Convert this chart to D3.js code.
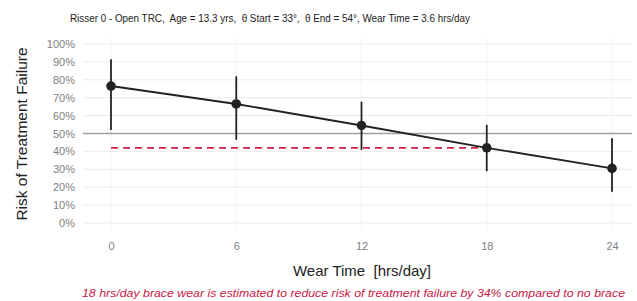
<!DOCTYPE html>
<html><head><meta charset="utf-8">
<script src="https://cdn.jsdelivr.net/npm/d3@7"></script>
<style>body{margin:0;background:#fff}svg{display:block}text{white-space:pre}</style>
</head><body>
<script>
const wearHours = [0, 6, 12, 18, 24];
const risk = [0.765, 0.665, 0.545, 0.42, 0.305];
const lower = [0.52, 0.465, 0.408, 0.29, 0.175];
const upper = [0.915, 0.82, 0.678, 0.548, 0.473];
const yTicks = [0,0.1,0.2,0.3,0.4,0.5,0.6,0.7,0.8,0.9,1.0];
const xTicks = [0, 6, 12, 18, 24];
const refHours = 18;
const refRisk = 0.42;
const threshold = 0.5;
const titleText = "Risser 0 - Open TRC,  Age = 13.3 yrs,  θ Start = 33°,  θ End = 54°, Wear Time = 3.6 hrs/day";
const caption = "18 hrs/day brace wear is estimated to reduce risk of treatment failure by 34% compared to no brace";

const W = 637, H = 301;
const FONT = "Liberation Sans, Arial, sans-serif";
const svg = d3.select("body").append("svg").attr("width", W).attr("height", H);
const x = d3.scaleLinear().domain([0, 24]).range([111, 612]);
const y = d3.scaleLinear().domain([0, 1]).range([223, 44]);
const panelL = 83, panelR = 632, panelT = 38, panelB = 230;

// grid
svg.append("g").selectAll("line").data(yTicks).join("line")
  .attr("x1", panelL).attr("x2", panelR).attr("y1", d => y(d)).attr("y2", d => y(d))
  .attr("stroke", "#ebebeb").attr("stroke-width", 1);
svg.append("g").selectAll("line").data(xTicks).join("line")
  .attr("x1", d => x(d)).attr("x2", d => x(d)).attr("y1", panelT).attr("y2", panelB)
  .attr("stroke", "#f1f1f1").attr("stroke-width", 1);

// axes (text only)
const yAxis = svg.append("g").attr("transform", `translate(${panelL - 5},0)`)
  .call(d3.axisLeft(y).tickValues(yTicks).tickFormat(d3.format(".0%")).tickSize(0));
yAxis.select(".domain").remove();
yAxis.selectAll("text").attr("fill", "#808080").attr("font-size", "11px").attr("font-family", FONT);
const xAxis = svg.append("g").attr("transform", `translate(0,${239})`)
  .call(d3.axisBottom(x).tickValues(xTicks).tickSize(0));
xAxis.select(".domain").remove();
xAxis.selectAll("text").attr("fill", "#808080").attr("font-size", "11px").attr("font-family", FONT);

// threshold line
svg.append("line").attr("x1", panelL).attr("x2", panelR)
  .attr("y1", y(threshold)).attr("y2", y(threshold))
  .attr("stroke", "#a0a0a0").attr("stroke-width", 1.4);

// reference dashed
svg.append("line").attr("x1", x(0)).attr("x2", x(refHours))
  .attr("y1", y(refRisk)).attr("y2", y(refRisk))
  .attr("stroke", "#d0214a").attr("stroke-width", 1.8).attr("stroke-dasharray", "7,5");

const data = wearHours.map((h, i) => ({h, r: risk[i], lo: lower[i], hi: upper[i]}));
// error bars
svg.append("g").selectAll("line").data(data).join("line")
  .attr("x1", d => x(d.h)).attr("x2", d => x(d.h))
  .attr("y1", d => y(d.lo)).attr("y2", d => y(d.hi))
  .attr("stroke", "#222").attr("stroke-width", 1.8);
// line
svg.append("path").datum(data)
  .attr("d", d3.line().x(d => x(d.h)).y(d => y(d.r)))
  .attr("fill", "none").attr("stroke", "#222").attr("stroke-width", 1.9);
svg.append("g").selectAll("circle").data(data).join("circle")
  .attr("cx", d => x(d.h)).attr("cy", d => y(d.r)).attr("r", 4.8).attr("fill", "#222");

// titles
svg.append("text").attr("x", 70).attr("y", 22)
  .attr("font-size", "11px").attr("font-family", FONT)
  .attr("textLength", 400).attr("lengthAdjust", "spacingAndGlyphs")
  .attr("fill", "#222").text(titleText);
svg.append("text").attr("transform", `translate(27,${134}) rotate(-90)`)
  .attr("text-anchor", "middle").attr("font-size", "15.5px")
  .attr("font-family", FONT).attr("fill", "#222")
  .text("Risk of Treatment Failure");
svg.append("text").attr("x", 362).attr("y", 276).attr("text-anchor", "middle")
  .attr("font-size", "15px").attr("font-family", FONT)
  .attr("fill", "#222").text("Wear Time  [hrs/day]");
svg.append("text").attr("x", 82).attr("y", 297)
  .attr("font-size", "11px").attr("font-style", "italic")
  .attr("font-family", FONT).attr("textLength", 543).attr("lengthAdjust", "spacingAndGlyphs")
  .attr("fill", "#c8203f").text(caption);
</script>
</body></html>
